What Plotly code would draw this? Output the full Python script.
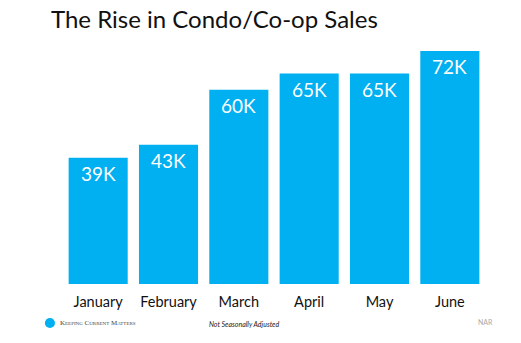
import plotly.graph_objects as go

months = ["January", "February", "March", "April", "May", "June"]
sales_k = [39, 43, 60, 65, 65, 72]
labels = ["39K", "43K", "60K", "65K", "65K", "72K"]

bar_color = "#00B0F0"

fig = go.Figure()
fig.add_trace(go.Bar(
    x=months, y=sales_k, marker=dict(color=bar_color, line=dict(width=0)),
    hoverinfo="skip", showlegend=False,
))

for m, v, t in zip(months, sales_k, labels):
    fig.add_annotation(x=m, y=v, text=t, showarrow=False, yanchor="top", yshift=-2,
                       font=dict(family="Lato, Open Sans, sans-serif", size=19, color="white"))

fig.update_layout(
    width=521, height=343,
    margin=dict(l=63, r=36, t=25, b=59),
    paper_bgcolor="white", plot_bgcolor="white",
    bargap=0.16,
    xaxis=dict(showgrid=False, showline=False, zeroline=False, ticks="",
               ticklabelstandoff=7,
               tickfont=dict(family="Lato, Open Sans, sans-serif", size=14.5, color="#111"),
               fixedrange=True),
    yaxis=dict(range=[0, 80], visible=False, fixedrange=True),
    font=dict(family="Lato, Open Sans, sans-serif"),
)

fig.add_annotation(xref="paper", yref="paper", x=-0.03, y=1.0, xanchor="left", yanchor="bottom",
                   xshift=-1, yshift=-10,
                   text="The Rise in Condo/Co-op Sales", showarrow=False,
                   font=dict(family="Lato, Open Sans, sans-serif", size=24, color="#111"))

# footer
fig.add_shape(type="circle", xref="paper", yref="paper",
              x0=-0.043, x1=-0.019, y0=-0.17, y1=-0.131,
              fillcolor=bar_color, line=dict(width=0))
fig.add_annotation(xref="paper", yref="paper", x=-0.012, y=-0.15, xanchor="left", yanchor="middle",
                   text="Keeping Current Matters", showarrow=False,
                   font=dict(family="Liberation Serif, serif", size=7, color="#444", variant="small-caps"))
fig.add_annotation(xref="paper", yref="paper", x=0.43, y=-0.155, xanchor="center", yanchor="middle",
                   text="<i>Not Seasonally Adjusted</i>", showarrow=False,
                   font=dict(family="Lato, Open Sans, sans-serif", size=7, color="#222"))
fig.add_annotation(xref="paper", yref="paper", x=1.0, y=-0.147, xanchor="center", yanchor="middle",
                   text="NAR", showarrow=False,
                   font=dict(family="Lato, Open Sans, sans-serif", size=7, color="#aaa"))

fig.write_html("out.html", config={"displayModeBar": False})
